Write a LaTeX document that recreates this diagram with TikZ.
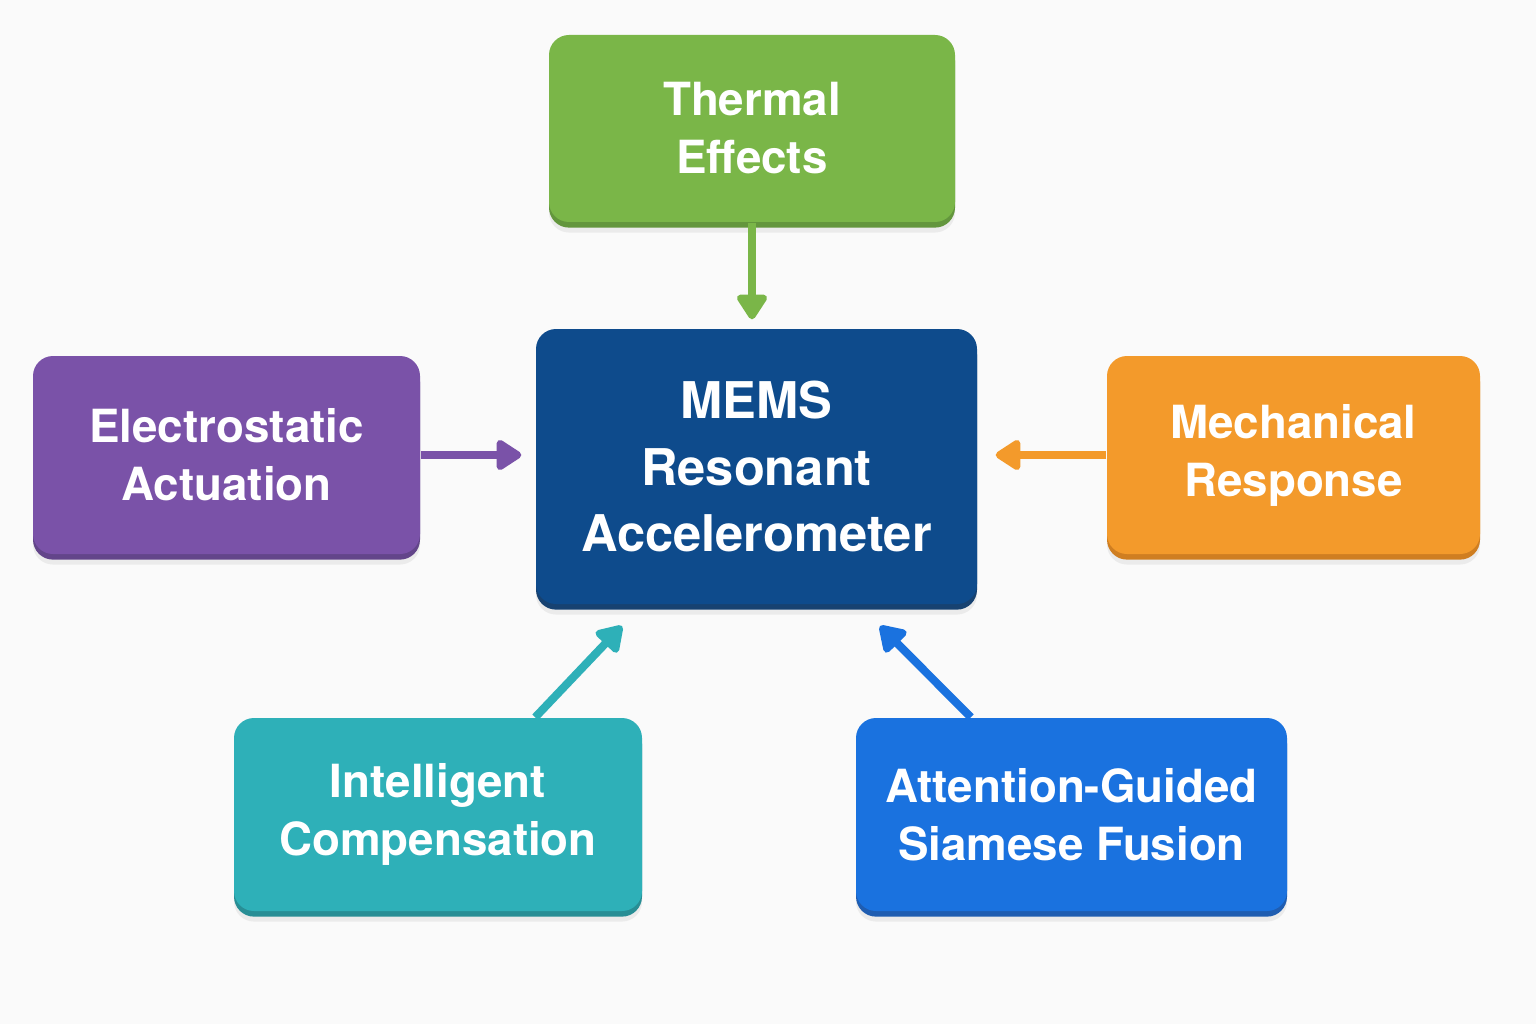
\documentclass[tikz,border=0pt]{standalone}
\usepackage{fontspec}
\setsansfont{TeX Gyre Heros}
\usepackage{tikz}
\usetikzlibrary{positioning,arrows.meta,shadows}
\definecolor{bgcol}{RGB}{250,250,250}
\definecolor{thermalcol}{RGB}{122,182,72}
\definecolor{thermalborder}{RGB}{96,154,52}
\definecolor{memscol}{RGB}{14,75,140}
\definecolor{memsborder}{RGB}{9,58,112}
\definecolor{electrocol}{RGB}{122,82,168}
\definecolor{electroborder}{RGB}{96,61,140}
\definecolor{mechcol}{RGB}{243,154,43}
\definecolor{mechborder}{RGB}{218,126,20}
\definecolor{compcol}{RGB}{46,176,184}
\definecolor{compborder}{RGB}{28,145,153}
\definecolor{fusioncol}{RGB}{26,114,223}
\definecolor{fusionborder}{RGB}{18,89,184}

\begin{document}
\begin{tikzpicture}[
                font=\sffamily\bfseries,
                mainnode/.style 2 args={rectangle, rounded corners=0.2cm, fill=#1, text=white, align=center,
                    font=\sffamily\bfseries\fontsize{13}{16.5}\selectfont,
                    preaction={fill=#2, transform canvas={yshift=-1.6pt}},
                    drop shadow={opacity=0.12, shadow xshift=0pt, shadow yshift=-3pt}},
                arrow/.style={-{Triangle[length=0.28cm, width=0.34cm, round]}, line width=2.3pt}
                ]
                % background and page size
                \fill[bgcol] (0,0) rectangle (15.36,10.24);
                \useasboundingbox (0,0) rectangle (15.36,10.24);

                \node[mainnode={thermalcol}{thermalborder}, minimum width=4.06cm, minimum height=1.87cm] (thermal) at (7.52,8.955) {Thermal\\Effects};
                \node[mainnode={memscol}{memsborder}, minimum width=4.41cm, minimum height=2.75cm,
                      font=\sffamily\bfseries\fontsize{14.4}{19}\selectfont] (mems) at (7.565,5.575) {MEMS\\Resonant\\Accelerometer};
                \node[mainnode={electrocol}{electroborder}, minimum width=3.87cm, minimum height=1.98cm] (electro) at (2.265,5.69) {Electrostatic\\Actuation};
                \node[mainnode={mechcol}{mechborder}, minimum width=3.73cm, minimum height=1.98cm] (mech) at (12.935,5.69) {Mechanical\\Response};
                \node[mainnode={compcol}{compborder}, minimum width=4.08cm, minimum height=1.93cm] (comp) at (4.38,2.095) {Intelligent\\Compensation};
                \node[mainnode={fusioncol}{fusionborder}, minimum width=4.31cm, minimum height=1.93cm] (fusion) at (10.715,2.095) {Attention-Guided\\Siamese Fusion};

                % free ends of the slanted arrows
                \coordinate (comptip) at (6.22,3.98);
                \coordinate (fusiontip) at (8.80,3.98);

                \draw[arrow, draw=thermalcol, shorten >=0.09cm] (thermal.south) -- (thermal.south |- mems.north);
                \draw[arrow, draw=electrocol, shorten >=0.14cm] (electro.east) -- (electro.east -| mems.west);
                \draw[arrow, draw=mechcol, shorten >=0.18cm] (mech.west) -- (mech.west -| mems.east);
                \draw[arrow, draw=compcol] (comp.45) -- (comptip);
                \draw[arrow, draw=fusioncol] (fusion.136) -- (fusiontip);
            \end{tikzpicture}
\end{document}
